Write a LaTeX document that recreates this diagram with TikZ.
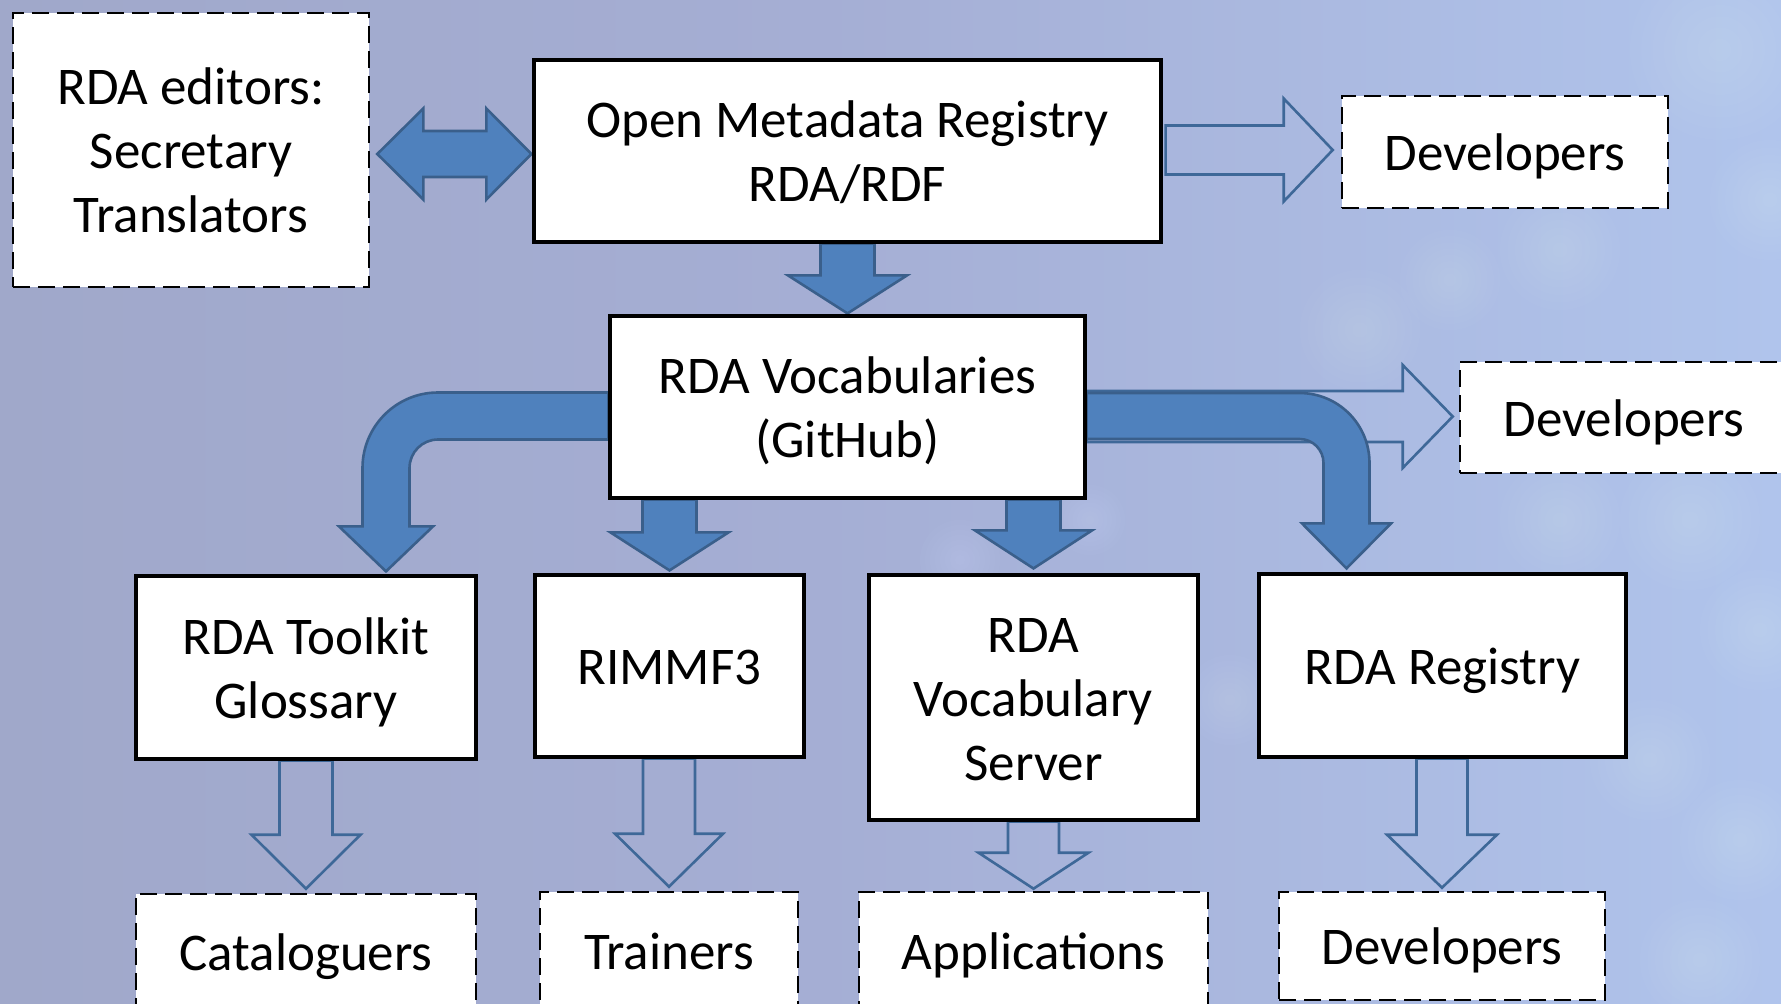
\documentclass[tikz,border=0pt]{standalone}
\usepackage{fontspec}
\setmainfont{Carlito}
\usetikzlibrary{calc}
\definecolor{bgL}{RGB}{160,168,202}
\definecolor{bgM}{RGB}{165,174,212}
\definecolor{bgR}{RGB}{176,196,236}
\definecolor{glow}{RGB}{225,240,255}
\definecolor{arrFill}{RGB}{79,129,189}
\definecolor{arrLine}{RGB}{58,95,139}
\definecolor{hollowLine}{RGB}{62,104,152}
\pgfdeclarehorizontalshading{bgshade}{100bp}{color(0bp)=(bgL); color(25bp)=(bgL); color(48bp)=(bgM); color(75bp)=(bgR); color(100bp)=(bgR)}
\pgfdeclarelayer{backlayer}
\pgfdeclarelayer{arrowlayer}
\pgfsetlayers{backlayer,arrowlayer,main}
\newcommand\ppstrut{\vrule height 50.6pt depth 13pt width 0pt}
\tikzset{
  solidbox/.style={draw=black, line width=3.2pt, fill=white, inner sep=0pt, align=center,
    font=\fontsize{53}{64}\selectfont},
  dashbox/.style={solidbox, line width=2.6pt, dash pattern=on 17pt off 8pt},
  solidarrow/.style={fill=arrFill, draw=arrLine, line width=2.6pt, line join=miter},
  hollowarrow/.style={draw=hollowLine, line width=2.6pt, line join=miter},
}
% vertical block arrow: style, source anchor, tip, shaft half, head half, head length
\newcommand\myvarrow[6]{%
  \draw[#1] ($(#3 |- #2)+(-#4,0)$) -- ($(#3)+(-#4,-#6)$) -- ($(#3)+(-#5,-#6)$) -- (#3)
    -- ($(#3)+(#5,-#6)$) -- ($(#3)+(#4,-#6)$) -- ($(#3 |- #2)+(#4,0)$) -- cycle;}
% horizontal block arrow: style, start, tip, shaft half, head half, head length
\newcommand\myharrow[6]{%
  \draw[#1] ($(#2)+(0,-#4)$) -- ($(#3)+(-#6,-#4)$) -- ($(#3)+(-#6,-#5)$) -- (#3)
    -- ($(#3)+(-#6,#5)$) -- ($(#3)+(-#6,#4)$) -- ($(#2)+(0,#4)$) -- cycle;}
\begin{document}
\begin{tikzpicture}[x=1pt,y=-1pt]
\useasboundingbox (0,0) rectangle (1781,1004);
\clip (0,0) rectangle (1781,1004);
\begin{pgfonlayer}{backlayer}
\shade[shading=bgshade] (0,0) rectangle (1781,1004);
\foreach \cx/\cy/\r in {1360/330/60, 1450/280/50, 1560/250/60, 1720/50/90, 1770/200/60,
    1560/520/60, 1690/520/70, 1760/630/60, 1650/760/60, 1740/840/60, 1700/960/60,
    960/560/40, 1230/700/45, 1090/520/35}
  {\foreach \k in {1,...,8} {\fill[glow, opacity=0.03] (\cx,\cy) circle[radius=\r*\k/8];}}
\end{pgfonlayer}

% boxes
\node[solidbox, minimum width=627pt, minimum height=182pt] (omr) at (847.5,151) {\ppstrut Open Metadata Registry\\\ppstrut RDA/RDF};
\node[dashbox, minimum width=356pt, minimum height=274pt] (ed) at (191,150) {\ppstrut RDA editors:\\\ppstrut Secretary\\\ppstrut Translators};
\node[dashbox, minimum width=326pt, minimum height=112pt] (dev1) at (1505,152) {\ppstrut Developers};
\node[solidbox, minimum width=475pt, minimum height=182pt] (voc) at (847.5,407) {\ppstrut RDA Vocabularies\\\ppstrut (GitHub)};
\node[dashbox, minimum width=328pt, minimum height=111pt] (dev2) at (1624,417.5) {\ppstrut Developers};
\node[solidbox, minimum width=340pt, minimum height=183pt] (tk) at (306,667.5) {\ppstrut RDA Toolkit\\\ppstrut Glossary};
\node[solidbox, minimum width=269pt, minimum height=182pt] (rim) at (669.5,666) {\ppstrut RIMMF3};
\node[solidbox, minimum width=329pt, minimum height=245pt] (srv) at (1033.5,697.5) {\ppstrut RDA\\\ppstrut Vocabulary\\\ppstrut Server};
\node[solidbox, minimum width=367pt, minimum height=183pt] (reg) at (1442.5,665.5) {\ppstrut RDA Registry};
\node[dashbox, minimum width=340pt, minimum height=116pt] (cat) at (306,952) {\ppstrut Cataloguers};
\node[dashbox, minimum width=258pt, minimum height=118pt] (trn) at (669,951) {\ppstrut Trainers};
\node[dashbox, minimum width=349pt, minimum height=118pt] (app) at (1033.5,951) {\ppstrut Applications};
\node[dashbox, minimum width=326pt, minimum height=108pt] (dev3) at (1442,946) {\ppstrut Developers};

\begin{pgfonlayer}{arrowlayer}
% hollow arrows
\coordinate (h1t) at ($(dev1.west)+(-8,-2)$);
\coordinate (h1s) at ($(omr.east |- h1t)+(3,0)$);
\myharrow{hollowarrow}{h1s}{h1t}{24.5}{51.5}{49}
\coordinate (h2t) at ($(dev2.west)+(-6,-1)$);
\coordinate (h2s) at (voc.east |- h2t);
\myharrow{hollowarrow}{h2s}{h2t}{25.5}{51.5}{50}
\coordinate (h3t) at ($(cat.north)+(0,-4)$);
\myvarrow{hollowarrow}{tk.south}{h3t}{26.5}{54.5}{54}
\coordinate (h4t) at ($(trn.north)+(0,-4)$);
\myvarrow{hollowarrow}{rim.south}{h4t}{26}{54}{53}
\coordinate (h5t) at ($(app.north)+(0,-2)$);
\myvarrow{hollowarrow}{srv.south}{h5t}{25.5}{55}{36}
\coordinate (h6t) at ($(dev3.north)+(0,-3)$);
\myvarrow{hollowarrow}{reg.south}{h6t}{25.5}{55}{53}

% solid arrows
\coordinate (s1t) at ($(voc.north)+(0,-1)$);
\myvarrow{solidarrow}{omr.south}{s1t}{27}{59.5}{38}
\coordinate (s2t) at ($(rim.north)+(0,-3)$);
\myvarrow{solidarrow}{voc.south}{s2t}{27}{59}{38}
\coordinate (s3t) at ($(srv.north)+(0,-5)$);
\myvarrow{solidarrow}{voc.south}{s3t}{27}{58.5}{38}

% double arrow editors <-> OMR
\coordinate (dL) at ($(ed.east)+(7,4)$);
\coordinate (dR) at ($(omr.west)+(-1,3)$);
\draw[solidarrow] (dL) -- ($(dL)+(46,-45.5)$) -- ($(dL)+(46,-23)$) -- ($(dR)+(-45,-23)$)
  -- ($(dR)+(-45,-45.5)$) -- (dR) -- ($(dR)+(-45,45.5)$) -- ($(dR)+(-45,23)$)
  -- ($(dL)+(46,23)$) -- ($(dL)+(46,45.5)$) -- cycle;

% left bent arrow voc -> toolkit
\coordinate (lbS) at ($(voc.west)+(0,9)$);
\coordinate (lbT) at ($(tk.north)+(80,-3)$);
\coordinate (lbK) at (lbT |- lbS);
\draw[solidarrow] ($(lbS)+(0,-23.5)$) -- ($(lbK)+(52,-23.5)$)
  arc[start angle=270, end angle=180, radius=75.5]
  -- ($(lbT)+(-23.5,-45)$) -- ($(lbT)+(-47,-45)$) -- (lbT) -- ($(lbT)+(47,-45)$)
  -- ($(lbT)+(23.5,-45)$) -- ($(lbK)+(23.5,52)$)
  arc[start angle=180, end angle=270, radius=28.5]
  -- ($(lbS)+(0,23.5)$) -- cycle;

% right bent arrow voc -> registry
\coordinate (rbS) at ($(voc.east)+(0,9)$);
\coordinate (rbT) at ($(reg.north)+(-96,-4)$);
\coordinate (rbK) at (rbT |- rbS);
\draw[solidarrow] ($(rbS)+(0,-23)$) -- ($(rbK)+(-47,-23)$)
  arc[start angle=270, end angle=360, radius=70]
  -- ($(rbT)+(23,-45)$) -- ($(rbT)+(44.5,-45)$) -- (rbT) -- ($(rbT)+(-44.5,-45)$)
  -- ($(rbT)+(-23,-45)$) -- ($(rbK)+(-23,47)$)
  arc[start angle=0, end angle=-90, radius=24]
  -- ($(rbS)+(0,23)$) -- cycle;
\end{pgfonlayer}
\end{tikzpicture}
\end{document}
